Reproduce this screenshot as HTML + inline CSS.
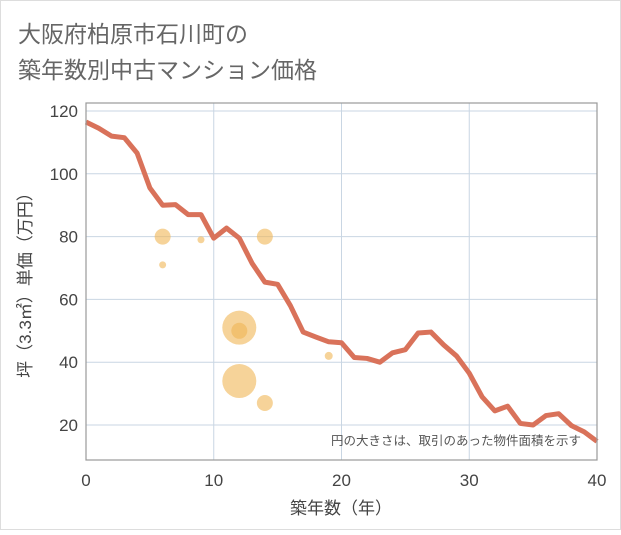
<!DOCTYPE html>
<html><head><meta charset="utf-8">
<style>
body{margin:0;background:#fff;}
svg text{font-family:"Liberation Sans","Noto Sans CJK JP",sans-serif;}
</style></head>
<body>
<svg width="621" height="530" xmlns="http://www.w3.org/2000/svg">
<rect x="0.5" y="0.5" width="620" height="529" fill="#fff" stroke="#ddd"/>
<text x="18" y="42" font-size="23" fill="#666">大阪府柏原市石川町の</text>
<text x="18" y="78" font-size="23" fill="#666">築年数別中古マンション価格</text>
<g id="grid"></g>
<g id="bubbles"></g>
<g id="line"></g>
<rect x="86" y="103" width="511" height="357" fill="none" stroke="#999" stroke-width="1.2"/>
<g id="ticks"></g>
<text x="456" y="445" font-size="12.5" fill="#555" text-anchor="middle">円の大きさは、取引のあった物件面積を示す</text>
<text x="341" y="514" font-size="17" fill="#444" text-anchor="middle">築年数（年）</text>
<text transform="translate(31,281) rotate(-90)" font-size="17" fill="#444" text-anchor="middle">坪（3.3㎡）単価（万円）</text>
</svg>
<script>
const years=[0,1,2,3,4,5,6,7,8,9,10,11,12,13,14,15,16,17,18,19,20,21,22,23,24,25,26,27,28,29,30,31,32,33,34,35,36,37,38,39,40];
const prices=[116.5,114.5,112,111.5,106.6,95.5,90,90.2,87,87,79.5,82.7,79.5,71.5,65.5,64.8,58,49.6,48,46.5,46.2,41.5,41.2,40,43,44,49.3,49.6,45.5,42,36.5,29,24.5,26,20.5,20,23,23.6,19.8,17.8,14.8];
const bubbleX=[6,6,9,14,12,12,12,14,19];
const bubbleY=[80,71,79,80,51,50,34,27,42];
const bubbleR=[8,3.5,3.5,8,17,8,17,8,4];
const xTicks=[0,10,20,30,40];
const yTicks=[20,40,60,80,100,120];
const NS="http://www.w3.org/2000/svg";
const sx=v=>86+v*(511/40);
const sy=v=>111+(120-v)*3.14;
function mk(t,p,a){const e=document.createElementNS(NS,t);for(const k in a)e.setAttribute(k,a[k]);p.appendChild(e);return e;}
const grid=document.getElementById('grid'),ticks=document.getElementById('ticks');
yTicks.forEach(v=>{
 const l=mk('line',grid,{x1:86,x2:597,y1:sy(v),y2:sy(v),stroke:'#c9d6e3','stroke-width':1});
 
 
 const t=mk('text',ticks,{x:78,y:sy(v)+6,'font-size':17,fill:'#444','text-anchor':'end'});
 t.textContent=v;
 
 
});
xTicks.forEach(v=>{
 const l=mk('line',grid,{x1:sx(v),x2:sx(v),y1:103,y2:460,stroke:'#c9d6e3','stroke-width':1});
 
 
 const t=mk('text',ticks,{x:sx(v),y:486,'font-size':17,fill:'#444','text-anchor':'middle'});
 t.textContent=v;
 
 
});
const bg=document.getElementById('bubbles');
bubbleX.forEach((x,i)=>{
 const c=mk('circle',bg,{cx:sx(x),cy:sy(bubbleY[i]),r:bubbleR[i],fill:'#f0b555','fill-opacity':0.6});
 
 
});
const p=mk('polyline',document.getElementById('line'),{points:years.map((x,i)=>sx(x)+','+sy(prices[i])).join(' '),fill:'none',stroke:'#d9725a','stroke-width':5,'stroke-linejoin':'round'});


</script>
</body></html>
